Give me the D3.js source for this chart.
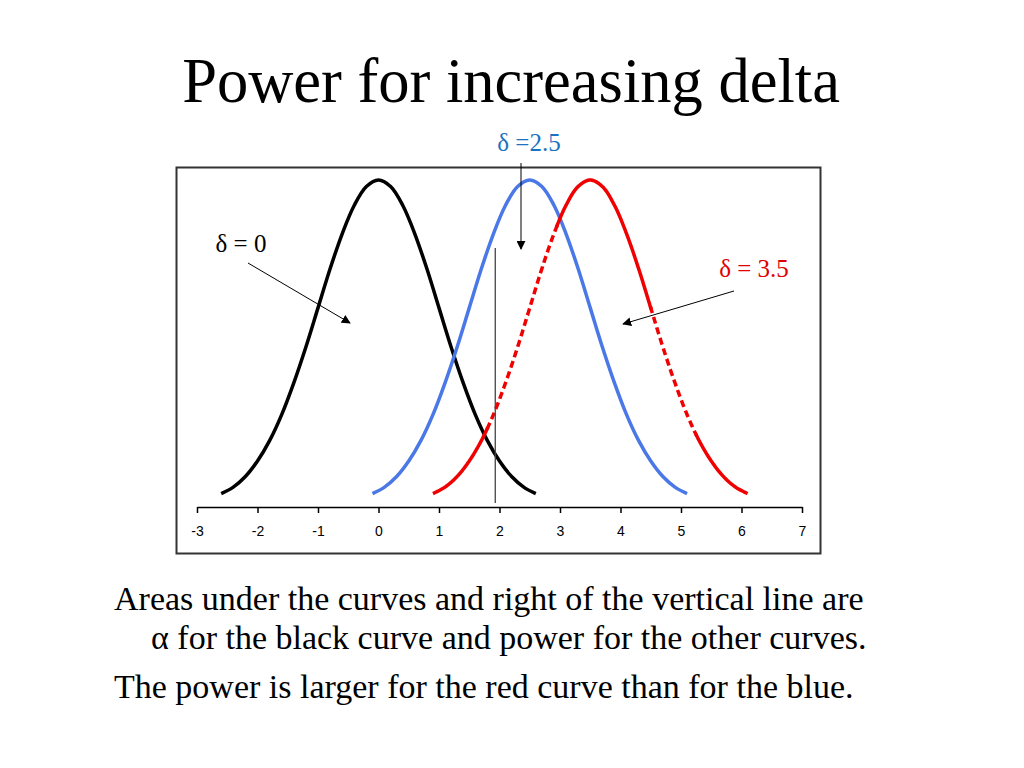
<!DOCTYPE html>
<html>
<head>
<meta charset="utf-8">
<script src="https://cdn.jsdelivr.net/npm/d3@7"></script>
<style>
  html, body { margin: 0; padding: 0; background: #fff; }
  svg { display: block; }
</style>
</head>
<body>
<svg id="chart" width="1024" height="768"></svg>
<script>
// ---- data ----
const titleText = "Power for increasing delta";
const xTicks = [-3, -2, -1, 0, 1, 2, 3, 4, 5, 6, 7];
const deltas = [0, 2.5, 3.5];
const deltaLabels = ["δ = 0", "δ =2.5", "δ = 3.5"];
// curve shape: offset from centre and height
const offsets = [-2.6, -2.4, -2.2, -2.0, -1.8, -1.6, -1.4, -1.2, -1.0, -0.8, -0.6, -0.4, -0.2, 0,
                 0.2, 0.4, 0.6, 0.8, 1.0, 1.2, 1.4, 1.6, 1.8, 2.0, 2.2, 2.4, 2.6];
const heights = [0.014, 0.022, 0.035, 0.054, 0.079, 0.111, 0.150, 0.194, 0.242, 0.290, 0.333, 0.368, 0.391, 0.399,
                 0.391, 0.368, 0.333, 0.290, 0.242, 0.194, 0.150, 0.111, 0.079, 0.054, 0.035, 0.022, 0.014];
const criticalValue = 1.93;
const bodyLines = [
  "Areas under the curves and right of the vertical line are",
  "α for the black curve and power for the other curves.",
  "The power is larger for the red curve than for the blue."
];

// ---- layout ----
const svg = d3.select("#chart");
const colors = ["#000000", "#4a78e6", "#f00000"];
const labelColors = ["#000000", "#1a72c0", "#e00000"];

const x = d3.scaleLinear().domain([-3, 7]).range([197, 802]);
const y = d3.scaleLinear().domain([0, 0.399]).range([505, 180]);

// title
svg.append("text")
  .attr("x", 511).attr("y", 102)
  .attr("text-anchor", "middle")
  .attr("font-family", "Liberation Serif, Times New Roman, serif")
  .attr("font-size", 62.5)
  .attr("fill", "#000")
  .text(titleText);

// frame
svg.append("rect")
  .attr("x", 176.5).attr("y", 167.5)
  .attr("width", 644).attr("height", 386)
  .attr("fill", "none")
  .attr("stroke", "#333")
  .attr("stroke-width", 2);

// axis
const axis = d3.axisBottom(x).tickValues(xTicks).tickFormat(d => String(d))
  .tickSize(6).tickPadding(13).tickSizeOuter(0);
const gAxis = svg.append("g").attr("transform", "translate(0,507)").call(axis);
gAxis.select(".domain").attr("stroke", "#000").attr("stroke-width", 1.5);
gAxis.selectAll(".tick line").attr("stroke", "#000").attr("stroke-width", 1.5);
gAxis.selectAll(".tick text")
  .attr("font-family", "Liberation Sans, Arial, sans-serif")
  .attr("font-size", 14)
  .attr("fill", "#000");

// curves
const line = d3.line()
  .x(d => x(d.x))
  .y(d => y(d.y))
  .curve(d3.curveCatmullRom);

deltas.forEach((dl, i) => {
  const pts = offsets.map((o, k) => ({ x: dl + o, y: heights[k] }));
  if (i === 2) {
    // red curve: solid with dashed sections as in the original
    const segs = [
      [0.9, 1.8, null], [1.8, 2.95, "7,4"], [2.95, 4.5, null], [4.5, 5.25, "7,4"], [5.25, 6.1, null]
    ];
    const pathEl = svg.append("path").attr("d", line(pts)).attr("fill", "none").attr("stroke", "none");
    const node = pathEl.node();
    const L = node.getTotalLength();
    const samples = d3.range(0, L + 1, 1).map(l => node.getPointAtLength(Math.min(l, L)));
    pathEl.remove();
    segs.forEach(s => {
      const a = x(s[0]), b = x(s[1]);
      const seg = samples.filter(p => p.x >= a - 0.5 && p.x <= b + 0.5);
      svg.append("path")
        .attr("d", d3.line().x(p => p.x).y(p => p.y)(seg))
        .attr("fill", "none")
        .attr("stroke", colors[i])
        .attr("stroke-width", 3.5)
        .attr("stroke-linecap", "butt")
        .attr("stroke-linejoin", "round")
        .attr("stroke-dasharray", s[2]);
    });
  } else {
    svg.append("path")
      .attr("d", line(pts))
      .attr("fill", "none")
      .attr("stroke", colors[i])
      .attr("stroke-width", 3.5)
      .attr("stroke-linejoin", "round");
  }
});

// critical value line
svg.append("line")
  .attr("x1", x(criticalValue)).attr("x2", x(criticalValue))
  .attr("y1", 248).attr("y2", 503)
  .attr("stroke", "#444").attr("stroke-width", 1.3);

// arrow marker
const defs = svg.append("defs");
defs.append("marker")
  .attr("id", "arrow")
  .attr("viewBox", "0 0 10 10")
  .attr("refX", 9).attr("refY", 5)
  .attr("markerWidth", 9).attr("markerHeight", 9)
  .attr("markerUnits", "userSpaceOnUse")
  .attr("orient", "auto")
  .append("path").attr("d", "M0,0 L10,5 L0,10 z").attr("fill", "#000");

// labels and arrows
const labelPos = [[241, 252, "middle"], [529, 151, "middle"], [754, 277, "middle"]];
const arrowPos = [[248, 263, 350, 323], [521, 163, 521, 249], [734, 291, 623, 324]];
deltaLabels.forEach((t, i) => {
  svg.append("text")
    .attr("x", labelPos[i][0]).attr("y", labelPos[i][1])
    .attr("text-anchor", labelPos[i][2])
    .attr("font-family", "Liberation Serif, Times New Roman, serif")
    .attr("font-size", 25)
    .attr("fill", labelColors[i])
    .text(t);
  const a = arrowPos[i];
  svg.append("line")
    .attr("x1", a[0]).attr("y1", a[1]).attr("x2", a[2]).attr("y2", a[3])
    .attr("stroke", "#000").attr("stroke-width", 1)
    .attr("marker-end", "url(#arrow)");
});

// body text
const bodyPos = [[114, 610], [151, 649], [114, 698]];
bodyLines.forEach((t, i) => {
  svg.append("text")
    .attr("x", bodyPos[i][0]).attr("y", bodyPos[i][1])
    .attr("font-family", "Liberation Serif, Times New Roman, serif")
    .attr("font-size", 34)
    .attr("fill", "#000")
    .text(t);
});
</script>
</body>
</html>
